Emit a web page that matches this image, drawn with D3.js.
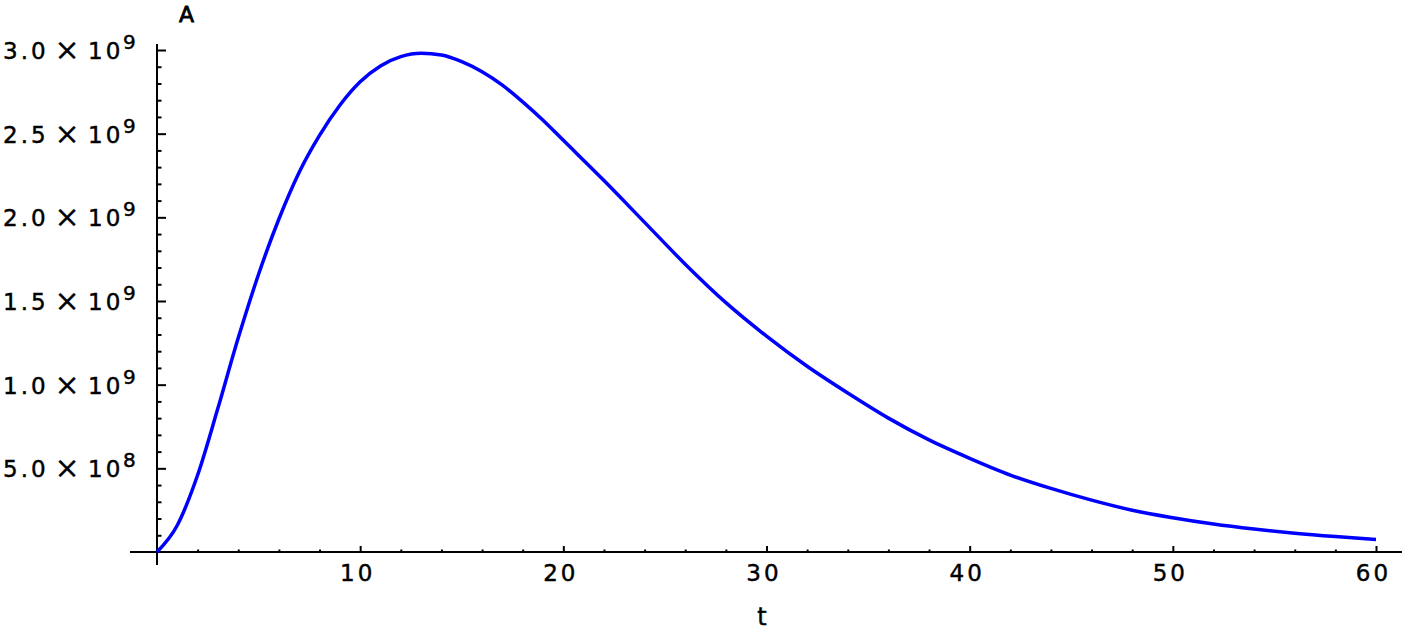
<!DOCTYPE html>
<html>
<head>
<meta charset="utf-8">
<script src="https://cdn.jsdelivr.net/npm/d3@7"></script>
<style>
  body { margin: 0; background: #fff; }
  text { font-family: "DejaVu Sans", sans-serif; fill: #000; stroke: #000; stroke-width: 0.45px; }
</style>
</head>
<body>
<svg width="1405" height="630"></svg>
<script>

// curve values (t, A)
var tValues = [0, 1, 2, 3, 4, 5, 6, 7, 8, 9, 10, 11, 12, 13, 14, 15, 16, 17, 18, 19, 20,
               22, 24, 26, 28, 30, 32, 34, 36, 38, 40, 42, 44, 46, 48, 50, 52, 54, 56, 58, 60];
var aValues = [0, 0.16e9, 0.46e9, 0.86e9, 1.28e9, 1.66e9, 1.99e9, 2.27e9, 2.49e9, 2.67e9, 2.81e9,
               2.905e9, 2.96e9, 2.98e9, 2.97e9, 2.93e9, 2.87e9, 2.79e9, 2.69e9, 2.58e9, 2.46e9,
               2.22e9, 1.97e9, 1.72e9, 1.49e9, 1.29e9, 1.11e9, 0.95e9, 0.80e9, 0.67e9, 0.56e9,
               0.46e9, 0.38e9, 0.31e9, 0.25e9, 0.205e9, 0.167e9, 0.137e9, 0.112e9, 0.092e9, 0.075e9];

var xTicks = [10, 20, 30, 40, 50, 60];
var yTicks = [5e8, 1e9, 1.5e9, 2e9, 2.5e9, 3e9];
var yMantissa = ["5.0", "1.0", "1.5", "2.0", "2.5", "3.0"];
var yExponent = ["8", "9", "9", "9", "9", "9"];

var data = tValues.map(function(t, i){ return {t: t, a: aValues[i]} });

var svg = d3.select('svg');

var x = d3.scaleLinear().domain([0, 60]).range([157, 1376]);
var y = d3.scaleLinear().domain([0, 3e9]).range([552, 50]);

// minor tick positions
var xMinor = d3.range(2, 60, 2).filter(function(d){ return d % 10 != 0 });
var yMinor = d3.range(1, 30).map(function(d){ return d * 1e8 })
               .filter(function(d){ return Math.round(d / 1e8) % 5 != 0 });

// x axis: ticks pointing up into the plot
svg.append('g')
   .attr('transform', 'translate(0,' + y(0) + ')')
   .call(d3.axisBottom(x).tickValues(xMinor).tickSize(-2.5).tickFormat(''))
   .call(function(g){ g.select('.domain').remove() });

var gx = svg.append('g')
   .attr('transform', 'translate(0,' + y(0) + ')')
   .call(d3.axisBottom(x).tickValues(xTicks).tickSize(-6).tickPadding(13))
   .call(function(g){ g.select('.domain').remove() });

gx.selectAll('text')
  .attr('font-size', 23)
  .attr('letter-spacing', 3)
  .attr('dx', -3)
  .attr('dy', '0.71em');

// y axis: ticks pointing right
svg.append('g')
   .attr('transform', 'translate(' + x(0) + ',0)')
   .call(d3.axisLeft(y).tickValues(yMinor).tickSize(-4.5).tickFormat(''))
   .call(function(g){ g.select('.domain').remove() });

svg.append('g')
   .attr('transform', 'translate(' + x(0) + ',0)')
   .call(d3.axisLeft(y).tickValues(yTicks).tickSize(-9).tickFormat(''))
   .call(function(g){ g.select('.domain').remove() });

svg.selectAll('.tick line').attr('stroke', '#000').attr('stroke-width', 2);

// y tick labels as  m × 10^e
var labels = svg.append('g').selectAll('g')
   .data(yTicks)
   .enter()
   .append('g')
   .attr('transform', function(d){ return 'translate(0,' + (y(d) + 9) + ')' });

labels.append('text')
   .attr('x', 3)
   .attr('font-size', 23)
   .attr('letter-spacing', 3)
   .text(function(d, i){ return yMantissa[i] });

labels.append('text')
   .attr('x', 67)
   .attr('y', 1)
   .attr('text-anchor', 'middle')
   .attr('font-size', 30)
   .style('stroke-width', '0.2px')
   .text('\u00d7');

labels.append('text')
   .attr('x', 88)
   .attr('font-size', 23)
   .attr('letter-spacing', 3)
   .text('10');

labels.append('text')
   .attr('x', 123)
   .attr('y', -10)
   .attr('font-size', 20)
   .text(function(d, i){ return yExponent[i] });

// axis lines, running a bit past the plot like the original
svg.append('line')
   .attr('x1', 130).attr('x2', 1402)
   .attr('y1', y(0)).attr('y2', y(0))
   .attr('stroke', '#000').attr('stroke-width', 2);

svg.append('line')
   .attr('x1', x(0)).attr('x2', x(0))
   .attr('y1', 44).attr('y2', 565)
   .attr('stroke', '#000').attr('stroke-width', 2);

// the curve
var line = d3.line()
   .x(function(d){ return x(d.t) })
   .y(function(d){ return y(d.a) })
   .curve(d3.curveMonotoneX);

svg.append('path')
   .datum(data)
   .attr('d', line)
   .attr('fill', 'none')
   .attr('stroke', '#0000ff')
   .attr('stroke-width', 3.5);

// axis titles
svg.append('text')
   .attr('x', 187).attr('y', 22)
   .attr('text-anchor', 'middle')
   .attr('font-size', 22)
   .attr('letter-spacing', 1)
   .style('stroke-width', '0.8px')
   .text('A');

svg.append('text')
   .attr('x', 762).attr('y', 625)
   .attr('text-anchor', 'middle')
   .attr('font-size', 24)
   .text('t');

</script>
</body>
</html>
